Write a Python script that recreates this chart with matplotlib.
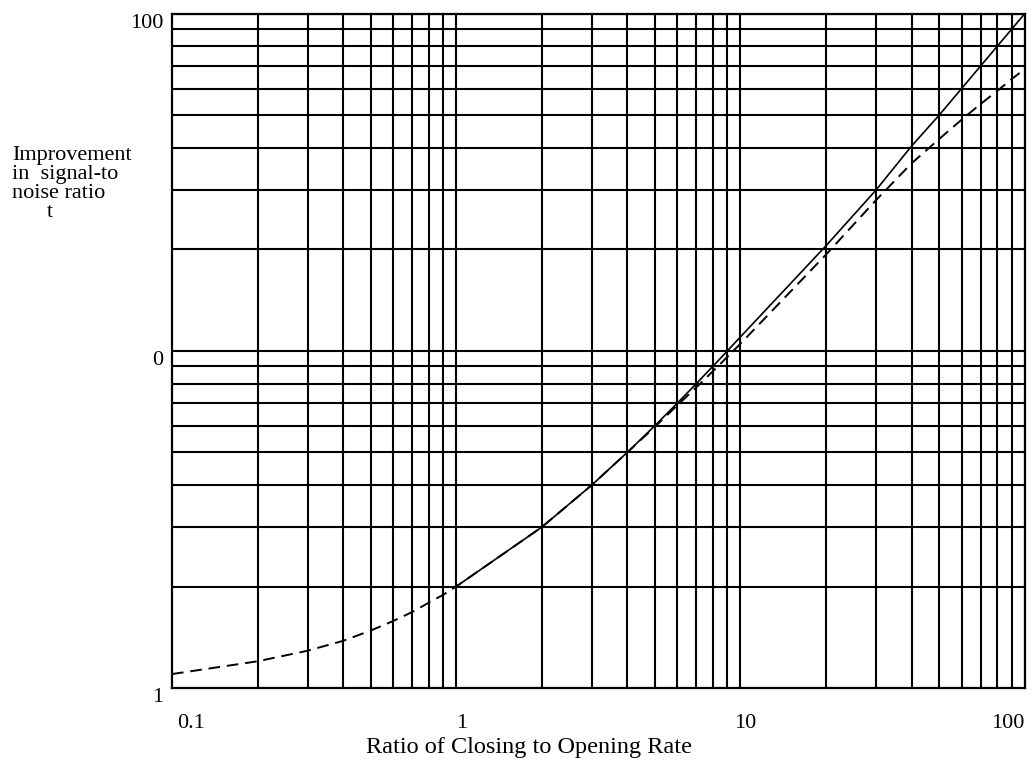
import numpy as np
import matplotlib.pyplot as plt
from matplotlib.transforms import ScaledTranslation

# values
x_dash = [0.1, 0.2, 0.3, 0.4, 0.5, 0.6, 0.7, 0.8, 0.9, 1, 2, 3, 4, 5, 6, 7, 8, 9, 10,
          20, 30, 40, 50, 60, 70, 80, 90, 100]
y_dash = [1.10, 1.20, 1.29, 1.38, 1.48, 1.58, 1.68, 1.79, 1.89, 2.0, 3.0, 4.0, 5.0, 5.95,
          6.9, 7.8, 8.7, 9.6, 10.5, 19.3, 28.0, 36.0, 42.5, 48.5, 54.0, 59.0, 64.0, 68.5]
x_solid = [1, 2, 3, 4, 5, 6, 7, 8, 9, 10, 20, 30, 40, 50, 60, 70, 80, 90, 100]
y_solid = [2.0, 3.0, 4.0, 5.0, 6.0, 7.0, 8.0, 9.0, 10.0, 11.0, 20.5, 30.0, 40.5, 50.0,
           60.0, 70.0, 80.0, 90.0, 100.0]

x_ticks = [0.1, 1, 10, 100]
x_ticklabels = ['0.1', '1', '10', '100']
y_ticks = [1, 10, 100]
y_ticklabels = ['1', '0', '100']

plt.rcParams['font.family'] = ['Liberation Serif', 'DejaVu Serif']

fig = plt.figure(figsize=(10.36, 7.67), dpi=100)
ax = fig.add_axes([0.166, 0.103, 0.823, 0.879])
ax.set_xscale('log')
ax.set_yscale('log')
ax.set_xlim(0.1, 100)
ax.set_ylim(1, 100)

# grid on every 1..9 step of each decade
xg = [m * 10.0**d for d in range(-1, 2) for m in range(2, 11)]
yg = [m * 10.0**d for d in range(0, 2) for m in range(2, 11)]
for v in xg:
    ax.axvline(v, color='black', lw=1.5, zorder=1)
for v in yg:
    ax.axhline(v, color='black', lw=1.5, zorder=1)

ax.plot(x_solid, y_solid, color='black', lw=1.2, zorder=3)
ax.plot(x_dash, y_dash, color='black', lw=1.4, ls=(0, (6, 3.5)), zorder=3)

for s in ax.spines.values():
    s.set_linewidth(1.6)

ax.minorticks_off()
ax.set_xticks(x_ticks)
ax.set_xticklabels(x_ticklabels, fontsize=16)
ax.set_yticks(y_ticks)
ax.set_yticklabels(y_ticklabels, fontsize=16)
ax.tick_params(axis='both', length=0)
ax.tick_params(axis='x', pad=19)
ax.tick_params(axis='y', pad=6)
labs = ax.get_xticklabels()
labs[0].set_ha('left')
labs[-1].set_ha('right')
for t in ax.get_xticklabels()[:3]:
    t.set_transform(t.get_transform() + ScaledTranslation(0.05, 0, fig.dpi_scale_trans))
for t in ax.get_yticklabels():
    t.set_transform(t.get_transform() + ScaledTranslation(0, -0.07, fig.dpi_scale_trans))

fig.text(0.511, 0.025, 'Ratio of Closing to Opening Rate', fontsize=17.5,
         ha='center', va='center')

fig.text(0.012, 0.81, 'Improvement\nin  signal-to\nnoise ratio', fontsize=16,
         ha='left', va='top', linespacing=1.0)
fig.text(0.045, 0.735, 't', fontsize=16, ha='left', va='top')

fig.savefig('out.png', dpi=100)
